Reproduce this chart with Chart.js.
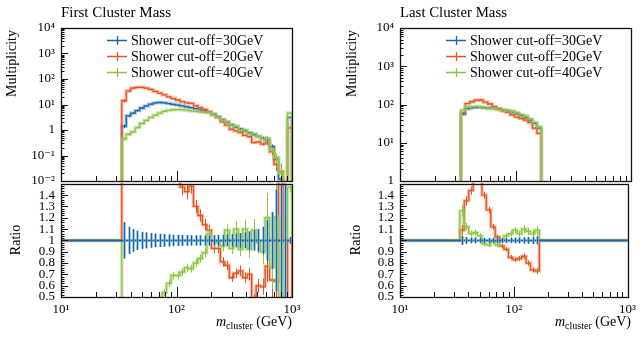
<!DOCTYPE html>
<html>
<head>
<meta charset="utf-8">
<title>Cluster mass</title>
<script src="https://cdn.jsdelivr.net/npm/chart.js@4.4.1/dist/chart.umd.min.js"></script>
<style>
  html, body { margin: 0; padding: 0; background: #fff; }
  #page { position: relative; width: 641px; height: 338px; overflow: hidden; font-family: "Liberation Serif", "DejaVu Serif", serif; color: #000; }
  #page canvas { position: absolute; }
  .lbl { position: absolute; white-space: nowrap; line-height: 1; }
  .title { font-size: 15px; top: 5px; }
  .ylab { font-size: 14px; transform-origin: 0 0; transform: rotate(-90deg); }
  .xlab { font-size: 14px; top: 315px; }
  .xlab sub { font-size: 10px; vertical-align: -3px; line-height: 0; }
</style>
</head>
<body>
<div id="page">
  <canvas id="firstMain" width="320" height="195" style="left:0;top:0"></canvas>
  <canvas id="firstRatio" width="320" height="168" style="left:0;top:170px"></canvas>
  <canvas id="lastMain" width="321" height="195" style="left:320px;top:0"></canvas>
  <canvas id="lastRatio" width="321" height="168" style="left:320px;top:170px"></canvas>

  <div class="lbl title" id="firstTitle" style="left:61px">First Cluster Mass</div>
  <div class="lbl title" id="lastTitle" style="left:400px">Last Cluster Mass</div>
  <div class="lbl ylab" style="left:5px;top:180px;width:150px;text-align:right">Multiplicity</div>
  <div class="lbl ylab" style="left:345px;top:180px;width:150px;text-align:right">Multiplicity</div>
  <div class="lbl ylab" style="left:9px;top:290px;width:100px;text-align:center">Ratio</div>
  <div class="lbl ylab" style="left:349px;top:290px;width:100px;text-align:center">Ratio</div>
  <div class="lbl xlab" style="right:349px"><i>m</i><sub>cluster</sub> (GeV)</div>
  <div class="lbl xlab" style="right:10px"><i>m</i><sub>cluster</sub> (GeV)</div>
</div>

<script>
// Cluster mass histograms, three shower cut-offs, ratio to the 30 GeV run

const seriesLabels = ['Shower cut-off=30GeV', 'Shower cut-off=20GeV', 'Shower cut-off=40GeV'];

// bin edges (GeV)
const firstEdges = [33.6, 36.7, 40.2, 43.9, 48.0, 52.5, 57.4, 62.8, 68.6, 75.1, 82.0, 89.7, 98.1,
  107.3, 117.3, 128.2, 140.2, 153.3, 167.6, 183.3, 200.4, 219.1, 239.6, 261.9, 286.4, 313.1,
  342.4, 374.4, 409.4, 447.6, 489.4, 535.1, 585.1, 639.7, 699.5, 764.9, 836.3, 914.5, 1000];
const lastEdges = [33.6, 36.7, 40.2, 43.9, 48.0, 52.5, 57.4, 62.8, 68.6, 75.1, 82.0, 89.7, 98.1,
  107.3, 117.3, 128.2, 140.2, 153.3, 167.6];

// first cluster mass
const first30 = [1.4, 3.6, 4.6, 5.8, 7.3, 8.8, 10.3, 11.5, 12.0, 11.6, 10.9, 10.2, 9.5, 8.8, 8.1, 7.5,
  6.9, 6.2, 5.6, 4.9, 4.2, 3.3, 2.6, 2.0, 1.6, 1.3, 1.1, 0.92, 0.78, 0.66, 0.56, 0.48, 0.40, 0.22,
  0.07, 0.012, 0, 3.1];
const first20 = [14, 34, 44, 47, 47, 44, 39, 33, 28, 24, 20, 17, 15, 12.9, 11.6, 11.1, 9.0, 7.6, 6.4,
  5.3, 3.9, 3.1, 2.1, 1.56, 1.07, 0.92, 0.8, 0.62, 0.55, 0.32, 0.34, 0.28, 0.31, 0.14, 0.045, 0.024,
  0, 1.2];
const first40 = [0.45, 0.68, 0.85, 1.25, 1.8, 2.4, 3.1, 3.8, 4.6, 5.4, 5.9, 6.2, 6.3, 6.2, 6.0, 5.6,
  5.4, 5.1, 4.9, 4.9, 4.1, 3.2, 2.5, 2.15, 1.5, 1.42, 1.0, 1.0, 0.72, 0.72, 0.55, 0.43, 0.48, 0.17,
  0.085, 0.02, 0, 4.6];
const firstRatio20 = [10, 9.4, 9.6, 8.1, 6.4, 5.0, 3.8, 2.9, 2.3, 2.1, 1.85, 1.7, 1.58, 1.47, 1.43,
  1.48, 1.30, 1.22, 1.14, 1.09, 0.93, 0.93, 0.81, 0.78, 0.67, 0.71, 0.73, 0.67, 0.70, 0.48, 0.60,
  0.59, 0.77, 0.65, 0.64, 2.0, 1.0, 0.39];
const firstRatio40 = [0.32, 0.19, 0.18, 0.22, 0.25, 0.27, 0.30, 0.33, 0.38, 0.54, 0.62, 0.69, 0.69,
  0.72, 0.76, 0.75, 0.80, 0.84, 0.89, 1.06, 0.99, 0.98, 0.95, 1.09, 0.93, 1.10, 0.92, 1.10, 0.92,
  1.09, 0.98, 0.90, 1.20, 0.76, 1.21, 0.3, 1.0, 1.47];
const firstRelErr = [0.16, 0.12, 0.10, 0.085, 0.075, 0.07, 0.065, 0.06, 0.058, 0.055, 0.053, 0.05,
  0.05, 0.048, 0.047, 0.046, 0.045, 0.045, 0.045, 0.045, 0.046, 0.048, 0.05, 0.052, 0.055, 0.06,
  0.065, 0.07, 0.08, 0.09, 0.10, 0.12, 0.18, 0.25, 0.45, 1.0, 1.0, 0.03];

// last cluster mass
const last30 = [56, 78, 82, 83, 83, 82, 81, 79, 76, 72, 68, 63, 57, 51, 45, 39, 32, 24];
const last20 = [61, 105, 118, 129, 131, 115, 103, 88, 78, 68, 63, 54, 47, 43, 39, 34, 24, 17.5];
const last40 = [71, 87, 87, 89, 86, 80, 78, 78, 73, 72, 71, 67, 62, 54, 50, 42, 34, 26];
const lastRatio20 = [1.09, 1.35, 1.44, 1.55, 1.58, 1.40, 1.27, 1.12, 1.03, 0.95, 0.92, 0.85, 0.83,
  0.84, 0.86, 0.80, 0.74, 0.73];
const lastRatio40 = [1.26, 1.12, 1.06, 1.07, 1.04, 0.97, 0.96, 0.99, 0.96, 1.00, 1.04, 1.06, 1.09,
  1.06, 1.10, 1.08, 1.06, 1.09];
const lastRelErr = [0.04, 0.03, 0.025, 0.025, 0.022, 0.022, 0.022, 0.022, 0.022, 0.022, 0.022, 0.024,
  0.025, 0.026, 0.028, 0.03, 0.032, 0.035];

// ticks
const xTickValues = [10, 100, 1000];
const xTickLabels = ['10¹', '10²', '10³'];
const firstYTicks = [0.01, 0.1, 1, 10, 100, 1000, 10000];
const firstYLabels = ['10⁻²', '10⁻¹', '1', '10¹', '10²', '10³', '10⁴'];
const lastYTicks = [1, 10, 100, 1000, 10000];
const lastYLabels = ['1', '10¹', '10²', '10³', '10⁴'];
const ratioTicks = [0.5, 0.6, 0.7, 0.8, 0.9, 1, 1.1, 1.2, 1.3, 1.4];
const ratioLabels = ['0.5', '0.6', '0.7', '0.8', '0.9', '1', '1.1', '1.2', '1.3', '1.4'];

const BLUE = '#1a64a6', RED = '#e8521f', GREEN = '#8cc43f';
const BLUE_BAND = 'rgba(80,145,205,0.45)', RED_BAND = 'rgba(240,125,85,0.45)', GREEN_BAND = 'rgba(165,212,110,0.5)';
const BLUE_LIGHT = 'rgba(120,178,226,0.7)';

Chart.defaults.font.family = '"Liberation Serif", "DejaVu Serif", serif';
Chart.defaults.font.size = 13;
Chart.defaults.color = '#000';

// keep the panel titles at the width they have in the original
function fitWidth(id, target) {
    const el = document.getElementById(id);
    const c = document.createElement('canvas').getContext('2d');
    c.font = '15px "Liberation Serif", "DejaVu Serif", serif';
    const w = c.measureText(el.textContent).width;
    if (w > 0) el.style.fontSize = (15 * target / w).toFixed(2) + 'px';
}
fitWidth('firstTitle', 110);
fitWidth('lastTitle', 107);

// minor tick positions for the decorations
const xMinor = [];
[10, 100].forEach(d => { for (let m = 2; m <= 9; m++) xMinor.push(m * d); });
function logMinor(lo, hi) {
    const out = [];
    for (let d = lo; d < hi; d *= 10) for (let m = 2; m <= 9; m++) out.push(m * d);
    return out;
}
const ratioMinor = [];
for (let k = 0; k <= 50; k++) { if (k % 5) ratioMinor.push(0.5 + k * 0.02); }

function histPoints(edges, values) {
    const floor = 1e-6;
    const pts = [{x: edges[0], y: floor}];
    values.forEach((v, i) => pts.push({x: edges[i], y: v > 0 ? v : floor}));
    pts.push({x: edges[edges.length - 1], y: floor});
    return pts;
}

function ratioPoints(edges, values) {
    const pts = [{x: 10, y: 1}];
    values.forEach((v, i) => pts.push({x: edges[i], y: v}));
    pts.push({x: edges[edges.length - 1], y: 1});
    pts.push({x: 1000, y: 1});
    return pts;
}

function binCenters(edges) {
    return edges.slice(0, -1).map((e, i) => Math.sqrt(e * edges[i + 1]));
}

function line(data, color, width) {
    return { data, borderColor: color, borderWidth: width, pointRadius: 0, stepped: true, fill: false, clip: 1 };
}

const crisp = v => Math.round(v) + 0.5;

const histDecor = {
    id: 'histDecor',
    afterDatasetsDraw(chart, args, o) {
        const {ctx, chartArea: a} = chart;
        const xs = chart.scales.x, ys = chart.scales.y;
        ctx.save();
        ctx.beginPath();
        ctx.rect(a.left, a.top, a.right - a.left, a.bottom - a.top);
        ctx.clip();
        (o.bars || []).forEach(b => {
            b.err.forEach((e, i) => {
                const v = b.vals ? b.vals[i] : 1;
                if (!(v > 0) || !(e > 0)) return;
                const px = crisp(xs.getPixelForValue(b.centers[i]));
                const hi = ys.getPixelForValue(v * (1 + e));
                const lo = ys.getPixelForValue(Math.max(v * (1 - e), 1e-9));
                if (b.light) {
                    ctx.fillStyle = b.light;
                    ctx.fillRect(px - 1.5, hi, 3, lo - hi);
                }
                ctx.strokeStyle = b.color;
                ctx.lineWidth = 1;
                ctx.beginPath();
                ctx.moveTo(px, hi);
                ctx.lineTo(px, lo);
                ctx.stroke();
            });
        });
        ctx.restore();
    },
    afterDraw(chart, args, o) {
        const {ctx, chartArea: a} = chart;
        const xs = chart.scales.x, ys = chart.scales.y;
        ctx.save();
        // inward ticks
        ctx.strokeStyle = '#111';
        ctx.lineWidth = 1;
        ctx.beginPath();
        const xt = (v, len) => { const p = crisp(xs.getPixelForValue(v)); ctx.moveTo(p, a.bottom); ctx.lineTo(p, a.bottom - len); };
        const yt = (v, len) => { const p = crisp(ys.getPixelForValue(v)); ctx.moveTo(a.left, p); ctx.lineTo(a.left + len, p); };
        xTickValues.forEach(v => xt(v, 10));
        xMinor.forEach(v => xt(v, 5));
        o.yMajor.forEach(v => yt(v, 7));
        o.yMinor.forEach(v => yt(v, 3.5));
        ctx.stroke();
        // frame
        ctx.lineWidth = 1.3;
        ctx.strokeRect(crisp(a.left), crisp(a.top), Math.round(a.right - a.left), Math.round(a.bottom - a.top));
        // legend
        if (o.legend) {
            ctx.font = '14px "Liberation Serif", serif';
            ctx.textBaseline = 'alphabetic';
            o.legend.forEach((it, k) => {
                const y = crisp(a.top + 11.5 + k * 16);
                const x0 = a.left + 46;
                ctx.strokeStyle = it.color;
                ctx.lineWidth = 1.3;
                ctx.beginPath();
                ctx.moveTo(x0, y); ctx.lineTo(x0 + 20, y);
                ctx.moveTo(crisp(x0 + 10), y - 4.5); ctx.lineTo(crisp(x0 + 10), y + 4.5);
                ctx.stroke();
                ctx.fillStyle = '#000';
                ctx.fillText(it.label, x0 + 24, y + 4.5);
            });
        }
        ctx.restore();
    }
};

function yAxis(type, min, max, ticks, labels, width) {
    return {
        type, min, max,
        grid: { display: false, drawTicks: false },
        border: { display: false },
        afterFit: s => { s.width = width; },
        afterBuildTicks: s => { s.ticks = ticks.map(v => ({ value: v })); },
        ticks: { padding: 6, autoSkip: false, callback: (v, i) => labels[i] }
    };
}

function mainChart(id, edges, s30, s20, s40, relErr, yMin, yMax, yTicks, yLabels, axisWidth, padRight) {
    const centers = binCenters(edges);
    return new Chart(document.getElementById(id), {
        type: 'line',
        data: { datasets: [
            line(histPoints(edges, s40), GREEN, 1.3), line(histPoints(edges, s40), GREEN_BAND, 3.5),
            line(histPoints(edges, s20), RED, 1.3), line(histPoints(edges, s20), RED_BAND, 3.5),
            line(histPoints(edges, s30), BLUE, 1.3), line(histPoints(edges, s30), BLUE_BAND, 3.5)
        ] },
        options: {
            responsive: false, animation: false, events: [],
            layout: { padding: { top: 28, right: padRight, bottom: 14, left: 0 } },
            plugins: {
                legend: { display: false }, tooltip: { enabled: false },
                histDecor: {
                    yMajor: yTicks, yMinor: logMinor(yMin, yMax),
                    bars: [
                        { centers, vals: s30, err: relErr, color: BLUE },
                        { centers, vals: s20, err: relErr, color: RED },
                        { centers, vals: s40, err: relErr, color: GREEN }
                    ],
                    legend: [
                        { label: seriesLabels[0], color: BLUE },
                        { label: seriesLabels[1], color: RED },
                        { label: seriesLabels[2], color: GREEN }
                    ]
                }
            },
            scales: {
                x: { type: 'logarithmic', min: 10, max: 1000, display: false },
                y: yAxis('logarithmic', yMin, yMax, yTicks, yLabels, axisWidth)
            }
        },
        plugins: [histDecor]
    });
}

function ratioChart(id, edges, r20, r40, relErr, axisWidth, padRight) {
    const centers = binCenters(edges);
    return new Chart(document.getElementById(id), {
        type: 'line',
        data: { datasets: [
            { data: [{x: 10, y: 1}, {x: 1000, y: 1}], borderColor: BLUE, borderWidth: 2, pointRadius: 0, clip: 1 },
            line(ratioPoints(edges, r40), GREEN, 1.3), line(ratioPoints(edges, r40), GREEN_BAND, 3.5),
            line(ratioPoints(edges, r20), RED, 1.3), line(ratioPoints(edges, r20), RED_BAND, 3.5)
        ] },
        options: {
            responsive: false, animation: false, events: [],
            layout: { padding: { top: 11, right: padRight, bottom: 0, left: 0 } },
            plugins: {
                legend: { display: false }, tooltip: { enabled: false },
                histDecor: {
                    yMajor: ratioTicks.concat([1.5]), yMinor: ratioMinor,
                    bars: [
                        { centers, vals: r20, err: relErr, color: RED },
                        { centers, vals: r40, err: relErr, color: GREEN },
                        { centers, vals: null, err: relErr, color: BLUE, light: BLUE_LIGHT }
                    ]
                }
            },
            scales: {
                x: {
                    type: 'logarithmic', min: 10, max: 1000,
                    grid: { display: false, drawTicks: false },
                    border: { display: false },
                    afterFit: s => { s.height = 41; },
                    afterBuildTicks: s => { s.ticks = xTickValues.map(v => ({ value: v })); },
                    ticks: { padding: 5, autoSkip: false, maxRotation: 0, minRotation: 0, callback: (v, i) => xTickLabels[i] }
                },
                y: yAxis('linear', 0.5, 1.5, ratioTicks, ratioLabels, axisWidth)
            }
        },
        plugins: [histDecor]
    });
}

mainChart('firstMain', firstEdges, first30, first20, first40, firstRelErr, 0.01, 10000, firstYTicks, firstYLabels, 61, 28);
ratioChart('firstRatio', firstEdges, firstRatio20, firstRatio40, firstRelErr, 61, 28);
mainChart('lastMain', lastEdges, last30, last20, last40, lastRelErr, 1, 10000, lastYTicks, lastYLabels, 80, 10);
ratioChart('lastRatio', lastEdges, lastRatio20, lastRatio40, lastRelErr, 80, 10);
</script>
</body>
</html>
